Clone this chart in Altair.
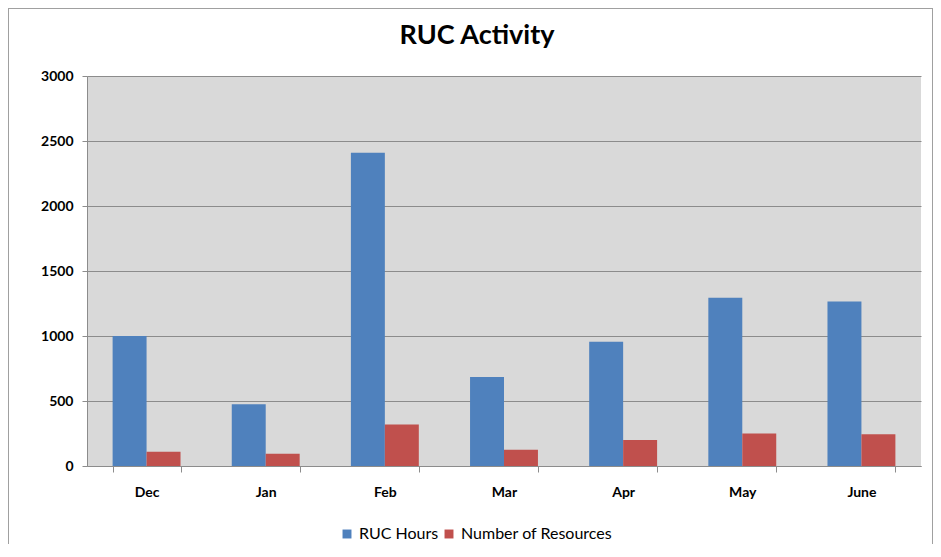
import altair as alt
import pandas as pd

months = ["Dec", "Jan", "Feb", "Mar", "Apr", "May", "June"]
ruc_hours = [1000, 475, 2410, 685, 955, 1295, 1265]
num_resources = [110, 95, 320, 125, 200, 250, 245]
series = ["RUC Hours", "Number of Resources"]
colors = ["#4F81BD", "#C0504D"]

rows = []
for m, h, r in zip(months, ruc_hours, num_resources):
    rows.append({"month": m, "series": series[0], "value": h})
    rows.append({"month": m, "series": series[1], "value": r})
df = pd.DataFrame(rows)

FONT = "Lato"

bars = alt.Chart(df).mark_bar().encode(
    x=alt.X("month:N", sort=months, title=None,
            scale=alt.Scale(paddingInner=0.43, paddingOuter=0.215),
            axis=alt.Axis(labelAngle=0, tickBand="extent", tickSize=6, tickColor="#8c8c8c",
                          domainColor="#8c8c8c", labelFontSize=14, labelFontWeight="bold",
                          labelColor="#000000", labelPadding=13, labelFont=FONT, grid=False)),
    xOffset=alt.XOffset("series:N", sort=series, scale=alt.Scale(paddingInner=0, paddingOuter=0)),
    y=alt.Y("value:Q", title=None,
            scale=alt.Scale(domain=[0, 3000], nice=False),
            axis=alt.Axis(values=[0, 500, 1000, 1500, 2000, 2500, 3000], format="d", tickSize=5,
                          tickColor="#8c8c8c", domainColor="#8c8c8c", gridColor="#8c8c8c",
                          gridWidth=1, labelFontSize=14, labelFontWeight="bold",
                          labelColor="#000000", labelPadding=9, labelFont=FONT)),
    color=alt.Color("series:N", sort=series,
                    scale=alt.Scale(domain=series, range=colors),
                    legend=alt.Legend(title=None, orient="none", direction="horizontal",
                                      legendX=252, legendY=450, symbolType="square",
                                      symbolSize=80, symbolStrokeWidth=0, labelFontSize=16,
                                      labelFont=FONT, labelColor="#000000", columnPadding=2,
                                      symbolOpacity=1)),
)

frame = alt.Chart(df).mark_rect(fill=None, stroke="#a0a0a0", strokeWidth=1).encode(
    x=alt.value(-78.5), x2=alt.value(845.5), y=alt.value(-67.5), y2=alt.value(520)
)

chart = alt.layer(frame, bars).properties(
    width=834,
    height=390,
    autosize="none",
    padding={"left": 79, "top": 68, "right": 12, "bottom": 78},
    title=alt.TitleParams("RUC Activity", fontSize=27, font=FONT, fontWeight="bold",
                          color="#000000", anchor="middle", dx=-27, dy=42, offset=0),
).configure(background="#FFFFFF").configure_view(fill="#D9D9D9", stroke=None)

chart.save("out.html", embed_options={"renderer": "svg", "actions": False})
